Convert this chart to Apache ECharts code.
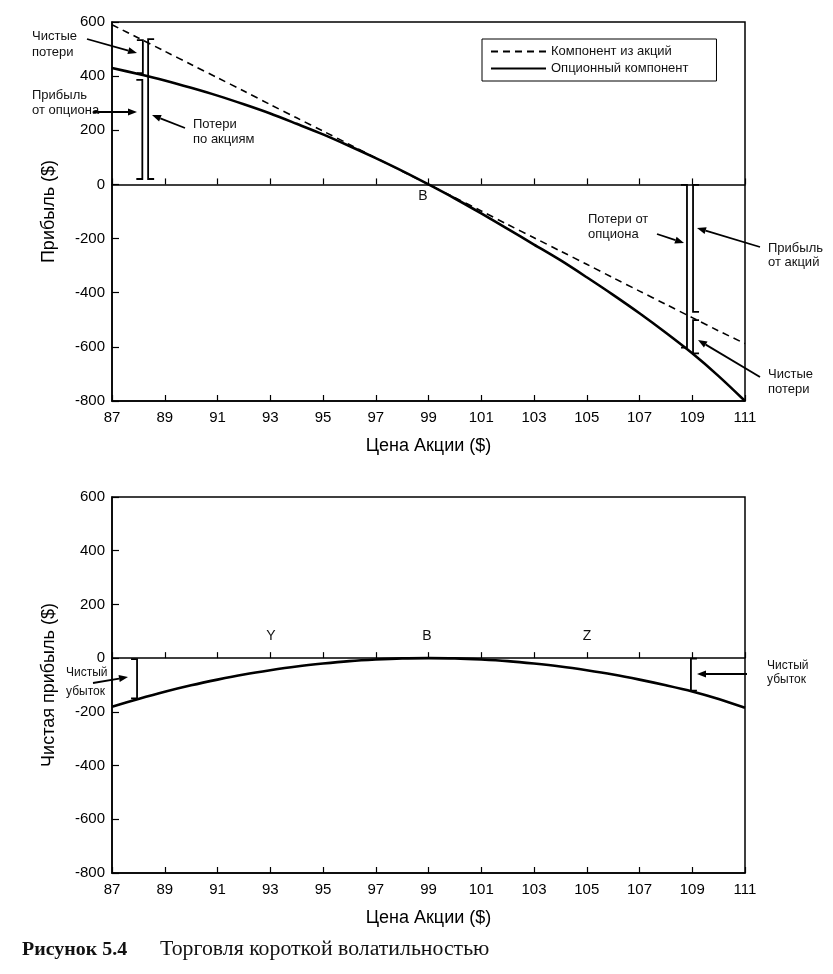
<!DOCTYPE html>
<html><head><meta charset="utf-8">
<script src="https://cdn.jsdelivr.net/npm/echarts@6/dist/echarts.min.js"></script>
<style>html,body{margin:0;padding:0;background:#fff;} #c{width:833px;height:974px;}</style>
</head><body><div id="c"></div>
<script>
// ---- data ----
const prices = [87,88,89,90,91,92,93,94,95,96,97,98,99,100,101,102,103,104,105,106,107,108,109,110,111];
const stockComponent = [590,541,492,443,394,345,295,246,197,148,98,49,0,-49,-98,-148,-197,-246,-295,-345,-394,-443,-492,-541,-588];
const optionComponent = [430,408,384,357,328,296,262,224,185,142,97,50,0,-52,-107,-164,-222,-280,-343,-408,-476,-548,-624,-708,-800];
const netProfit = [-181,-152,-125,-101,-80,-61,-45,-31,-20,-11,-5,-1,0,-1,-5,-11,-20,-31,-45,-61,-80,-101,-124,-152,-185];
const seriesNames = ['Компонент из акций','Опционный компонент'];
// brackets: [price, from, to, side(-1 ticks left, 1 ticks right)]
const topBrackets = [[88.17,533,411,-1],[88.15,386,20,-1],[88.37,537,20,1],[108.8,-2,-603,-1],[109.03,-2,-471,1],[109.03,-501,-624,1]];
const bottomBrackets = [[87.95,-4,-150,-1],[108.95,-2,-121,1]];

const F = '"Liberation Sans", Arial, sans-serif';
const SERIF = '"Liberation Serif", "Times New Roman", serif';
const chart = echarts.init(document.getElementById('c'), null, {renderer:'canvas'});

function pairs(ys){ return prices.map((p,i)=>[p, ys[i]]); }

function xAxisMain(grid){
  return {type:'value', gridIndex:grid, min:87, max:111, interval:2, position:'bottom',
    name:'Цена Акции ($)', nameLocation:'middle', nameGap:36,
    nameTextStyle:{fontFamily:F, fontSize:18, color:'#000'},
    axisLine:{onZero:false, lineStyle:{color:'#000', width:1.5}},
    axisTick:{inside:true, length:6, lineStyle:{color:'#000', width:1.2}},
    axisLabel:{fontFamily:F, fontSize:15, color:'#000', margin:9},
    splitLine:{show:false}};
}
function xAxisZero(grid){
  return {type:'value', gridIndex:grid, min:87, max:111, interval:2, position:'bottom',
    axisLine:{onZero:true, lineStyle:{color:'#000', width:1.5}},
    axisTick:{inside:true, length:6, lineStyle:{color:'#000', width:1.2}},
    axisLabel:{show:false}, splitLine:{show:false}};
}
function yAxisMain(grid, name){
  return {type:'value', gridIndex:grid, min:-800, max:600, interval:200,
    name:name, nameLocation:'middle', nameGap:54,
    nameTextStyle:{fontFamily:F, fontSize:18, color:'#000'},
    axisLine:{onZero:false, lineStyle:{color:'#000', width:1.5}},
    axisTick:{inside:true, length:7, lineStyle:{color:'#000', width:1.2}},
    axisLabel:{fontFamily:F, fontSize:15, color:'#000', margin:7},
    splitLine:{show:false}};
}

function bracketSeries(data, xi, yi){
  return {type:'custom', xAxisIndex:xi, yAxisIndex:yi, data:data, silent:true, z:5,
    renderItem:function(params, api){
      const a = api.coord([api.value(0), api.value(1)]);
      const b = api.coord([api.value(0), api.value(2)]);
      const s = api.value(3)*6;
      return {type:'polyline', shape:{points:[[a[0]+s,a[1]],[a[0],a[1]],[b[0],b[1]],[b[0]+s,b[1]]]},
        style:{stroke:'#000', lineWidth:1.8, fill:null}};
    }};
}

function arrow(x1,y1,x2,y2){
  const ang = Math.atan2(y2-y1, x2-x1), L=9, W=3.5;
  const bx = x2 - L*Math.cos(ang), by = y2 - L*Math.sin(ang);
  const px = -Math.sin(ang)*W, py = Math.cos(ang)*W;
  return [
    {type:'line', shape:{x1:x1,y1:y1,x2:bx,y2:by}, style:{stroke:'#000', lineWidth:1.8}},
    {type:'polygon', shape:{points:[[x2,y2],[bx+px,by+py],[bx-px,by-py]]}, style:{fill:'#000'}}
  ];
}
function txt(x,y,t,size,extra){
  return {type:'text', x:x, y:y, style:Object.assign({text:t, fontFamily:F, fontSize:size||13, fill:'#111', textVerticalAlign:'middle', verticalAlign:'middle'}, extra||{})};
}

const graphics = [].concat(
  arrow(87,39,137,53), arrow(93,112,137,112), arrow(185,128,152,115),
  arrow(657,234,684,243), arrow(760,247,697,228), arrow(760,377,698,340),
  arrow(93,683,128,677), arrow(747,674,697,674),
  [
    txt(32,36,'Чистые'), txt(32,52,'потери'),
    txt(32,95,'Прибыль'), txt(32,110,'от опциона'),
    txt(193,124,'Потери'), txt(193,139,'по акциям'),
    txt(588,219,'Потери от'), txt(588,234,'опциона'),
    txt(768,248,'Прибыль'), txt(768,262,'от акций'),
    txt(768,374,'Чистые'), txt(768,389,'потери'),
    txt(423,196,'B',14,{align:'center', textAlign:'center'}),
    txt(271,636,'Y',14,{align:'center', textAlign:'center'}),
    txt(427,636,'B',14,{align:'center', textAlign:'center'}),
    txt(587,636,'Z',14,{align:'center', textAlign:'center'}),
    txt(66,673,'Чистый',12), txt(66,692,'убыток',12),
    txt(767,666,'Чистый',12), txt(767,680,'убыток',12),
    {type:'text', x:22, y:950, scaleX:1.05, style:{text:'Рисунок 5.4', fontFamily:SERIF, fontWeight:'bold', fontSize:19, fill:'#111', verticalAlign:'middle', textVerticalAlign:'middle'}},
    {type:'text', x:160, y:950, scaleX:1.09, style:{text:'Торговля короткой волатильностью', fontFamily:SERIF, fontSize:20, fill:'#111', verticalAlign:'middle', textVerticalAlign:'middle'}}
  ]
);

chart.setOption({
  backgroundColor:'#fff',
  animation:false,
  grid:[
    {left:112, right:88, top:22, height:379, show:true, borderColor:'#000', borderWidth:1.5, backgroundColor:'transparent'},
    {left:112, right:88, top:497, height:376, show:true, borderColor:'#000', borderWidth:1.5, backgroundColor:'transparent'}
  ],
  legend:{data:seriesNames, orient:'vertical', left:482, top:39, itemWidth:55, itemHeight:14, itemGap:4,
    padding:[6,28,6,8], borderColor:'#000', borderWidth:1, backgroundColor:'#fff',
    itemStyle:{color:'rgba(0,0,0,0)', borderWidth:0, opacity:0},
    textStyle:{fontFamily:F, fontSize:13, color:'#111'}, selectedMode:false},
  xAxis:[xAxisMain(0), xAxisZero(0), xAxisMain(1), xAxisZero(1)],
  yAxis:[yAxisMain(0,'Прибыль ($)'), yAxisMain(1,'Чистая прибыль ($)')],
  series:[
    {name:seriesNames[0], type:'line', xAxisIndex:0, yAxisIndex:0, data:pairs(stockComponent), symbol:'none', smooth:0.3,
      lineStyle:{color:'#000', width:1.6, type:[7,5]}, itemStyle:{color:'#000'}},
    {name:seriesNames[1], type:'line', xAxisIndex:0, yAxisIndex:0, data:pairs(optionComponent), symbol:'none', smooth:0.3,
      lineStyle:{color:'#000', width:2.6}, itemStyle:{color:'#000'}},
    {name:'Чистая прибыль', type:'line', xAxisIndex:2, yAxisIndex:1, data:pairs(netProfit), symbol:'none', smooth:0.3,
      lineStyle:{color:'#000', width:2.6}, itemStyle:{color:'#000'}},
    bracketSeries(topBrackets, 0, 0),
    bracketSeries(bottomBrackets, 2, 1)
  ],
  graphic:graphics
});
</script></body></html>
